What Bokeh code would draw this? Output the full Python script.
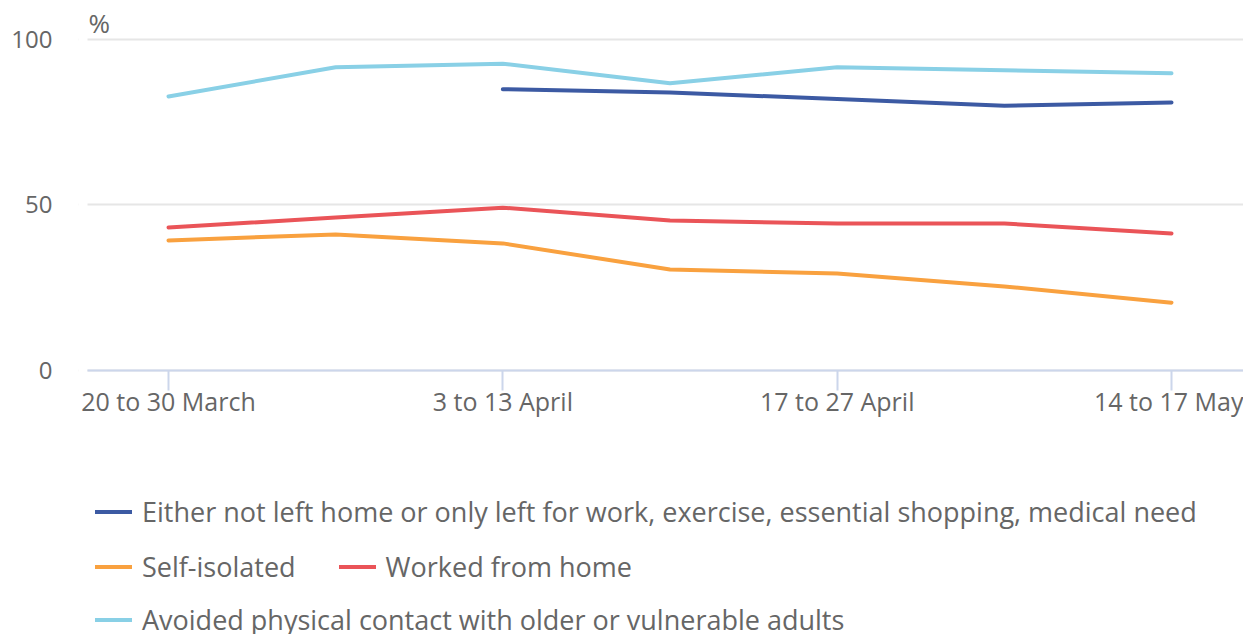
from bokeh.plotting import figure
from bokeh.models import Range1d, FixedTicker, Legend, LegendItem, Label, BoxAnnotation
from bokeh.embed import file_html
from bokeh.resources import INLINE
import numpy as np

periods = ["20 to 30 March", "27 March to 6 April", "3 to 13 April", "9 to 20 April",
           "17 to 27 April", "30 April to 10 May", "14 to 17 May"]
tick_idx = [0, 2, 4, 6]

not_left_home = [None, None, 85, 84, 82, 80, 81]
self_isolated = [39.3, 41.1, 38.4, 30.5, 29.3, 25.4, 20.5]
worked_home = [43.2, 46.2, 49.2, 45.3, 44.4, 44.4, 41.4]
avoided_contact = [82.8, 91.6, 92.7, 86.8, 91.6, 90.7, 89.8]

series_labels = [
    "Either not left home or only left for work, exercise, essential shopping, medical need",
    "Self-isolated",
    "Worked from home",
    "Avoided physical contact with older or vulnerable adults",
]
colors = ["#3c5aa3", "#f9a13f", "#ea5458", "#89d0e6"]

FONT = "Open Sans"
GREY = "#666666"

x = list(range(len(periods)))
PLOT_LEFT = -0.4845   # where the grid / axis line begins

p = figure(width=1243, height=634, output_backend="svg", toolbar_location=None,
           x_range=Range1d(-0.5384, 6.4307), y_range=Range1d(-79.76, 111.78),
           min_border_left=78, min_border_right=0, min_border_top=0, min_border_bottom=0)
p.outline_line_color = None
p.background_fill_color = "white"

# white mask so that grid lines start where the axis line starts
p.add_layout(BoxAnnotation(right=PLOT_LEFT, fill_color="white", fill_alpha=1,
                           line_color=None, level="underlay"))

def arr(v):
    return np.array([np.nan if a is None else a for a in v], dtype=float)

renderers = []
for vals, col in zip([not_left_home, self_isolated, worked_home, avoided_contact], colors):
    r = p.line(x, arr(vals), line_color=col, line_width=4, line_cap="round", line_join="round")
    renderers.append(r)

# x axis drawn at y = 0 inside the frame
p.xaxis.fixed_location = 0
p.xaxis.bounds = (PLOT_LEFT, 6.4307)
p.xaxis.ticker = FixedTicker(ticks=tick_idx)
p.xaxis.major_label_overrides = {i: periods[i] for i in tick_idx}
p.xaxis.axis_line_color = "#ccd6eb"
p.xaxis.axis_line_width = 2
p.xaxis.major_tick_line_color = "#ccd6eb"
p.xaxis.major_tick_line_width = 2
p.xaxis.major_tick_out = 20
p.xaxis.major_tick_in = 0
p.xaxis.minor_tick_line_color = None
p.xaxis.major_label_text_font = FONT
p.xaxis.major_label_text_font_size = "25px"
p.xaxis.major_label_text_color = GREY
p.xaxis.major_label_standoff = -6

p.yaxis.ticker = FixedTicker(ticks=[0, 50, 100])
p.yaxis.axis_line_color = None
p.yaxis.major_tick_line_color = None
p.yaxis.minor_tick_line_color = None
p.yaxis.major_tick_out = 0
p.yaxis.major_tick_in = 0
p.yaxis.major_label_text_font = FONT
p.yaxis.major_label_text_font_size = "24px"
p.yaxis.major_label_text_color = GREY
p.yaxis.major_label_standoff = 26

p.xgrid.grid_line_color = None
p.ygrid.grid_line_color = "#e6e6e6"
p.ygrid.grid_line_width = 2

p.add_layout(Label(x=PLOT_LEFT, y=100, text="%", x_offset=1, y_offset=16,
                   text_baseline="alphabetic", text_font=FONT, text_font_size="26px",
                   text_color=GREY))

rows = [[0], [1, 2], [3]]
row_y = [104, 49, -4]
for items_idx, vy in zip(rows, row_y):
    items = [LegendItem(label=series_labels[i], renderers=[renderers[i]]) for i in items_idx]
    lg = Legend(items=items, location=(17, vy), orientation="horizontal",
                glyph_width=37, glyph_height=37, label_standoff=10, spacing=43,
                padding=0, margin=0, border_line_color=None, background_fill_alpha=0,
                label_text_font=FONT, label_text_font_size="27px", label_text_color=GREY)
    p.add_layout(lg, "center")

open("out.html", "w").write(file_html(p, INLINE))
